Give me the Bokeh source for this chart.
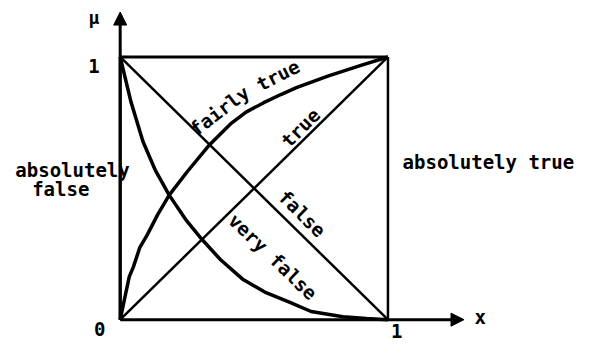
from bokeh.plotting import figure
from bokeh.models import Arrow, NormalHead
from bokeh.core.properties import value
from bokeh.embed import file_html
from bokeh.resources import INLINE
import math

# ---- data ----
true_x = [0, 1]
true_y = [0, 1]
false_x = [0, 1]
false_y = [1, 0]
fairly_true_x = [0, 0.021, 0.034, 0.049, 0.073, 0.10, 0.14, 0.183, 0.251, 0.334, 0.412, 0.47, 0.536, 0.60, 0.658, 0.778, 0.902, 1.0]
fairly_true_y = [0, 0.102, 0.164, 0.20, 0.274, 0.321, 0.40, 0.474, 0.564, 0.666, 0.745, 0.790, 0.826, 0.857, 0.883, 0.928, 0.969, 1.0]
very_false_x = [0, 0.04, 0.085, 0.132, 0.183, 0.244, 0.305, 0.375, 0.456, 0.54, 0.634, 0.713, 0.832, 0.92, 1.0]
very_false_y = [1, 0.83, 0.678, 0.567, 0.474, 0.382, 0.306, 0.228, 0.155, 0.105, 0.066, 0.031, 0.011, 0.004, 0]
abs_false_x = [0, 0]
abs_false_y = [0, 1]
abs_true_x = [1, 1]
abs_true_y = [0, 1]
top_x = [0, 1]
top_y = [1, 1]
x_axis_end = 1.284
y_axis_end = 1.171

FONT = value("DejaVu Sans Mono")

p = figure(width=584, height=342, x_range=(-0.447, 1.734), y_range=(-0.087, 1.215),
           output_backend="svg", toolbar_location=None, min_border=0,
           x_axis_location=None, y_axis_location=None)
p.grid.visible = False
p.outline_line_color = None
p.background_fill_color = "white"
p.border_fill_color = "white"

# frame
p.line(top_x, top_y, line_color="black", line_width=3)
p.line(abs_true_x, abs_true_y, line_color="black", line_width=2.5)
p.line(abs_false_x, abs_false_y, line_color="black", line_width=3)

# diagonals
p.line(true_x, true_y, line_color="black", line_width=2.5)
p.line(false_x, false_y, line_color="black", line_width=2.5)

# curves
p.line(fairly_true_x, fairly_true_y, line_color="black", line_width=3.5, line_join="round")
p.line(very_false_x, very_false_y, line_color="black", line_width=3.5, line_join="round")

# axes with arrows
p.add_layout(Arrow(end=NormalHead(size=13, fill_color="black", line_color="black"),
                   x_start=0, y_start=0, x_end=x_axis_end, y_end=0,
                   line_color="black", line_width=3))
p.add_layout(Arrow(end=NormalHead(size=13, fill_color="black", line_color="black"),
                   x_start=0, y_start=0, x_end=0, y_end=y_axis_end,
                   line_color="black", line_width=3))

def label(x, y, t, angle=0, size="19px", bold=True):
    p.text(x=[x], y=[y], text=[t], angle=math.radians(angle),
           text_align="center", text_baseline="middle",
           text_font=FONT, text_font_size=size,
           text_font_style="bold" if bold else "normal", text_color="black")

label(-0.098, 1.15, "μ", size="18px")
label(-0.098, 0.967, "1")
label(-0.076, -0.036, "0")
label(1.033, -0.042, "1")
label(1.345, 0.01, "x")
label(-0.178, 0.571, "absolutely")
label(-0.222, 0.498, "false")
label(1.375, 0.60, "absolutely true")
label(0.371, 0.796, "fairly", angle=37)
label(0.589, 0.931, "true", angle=27)
label(0.673, 0.731, "true", angle=45)
label(0.68, 0.404, "false", angle=-45)
label(0.571, 0.24, "very false", angle=-44)

open("out.html", "w").write(file_html(p, INLINE))
